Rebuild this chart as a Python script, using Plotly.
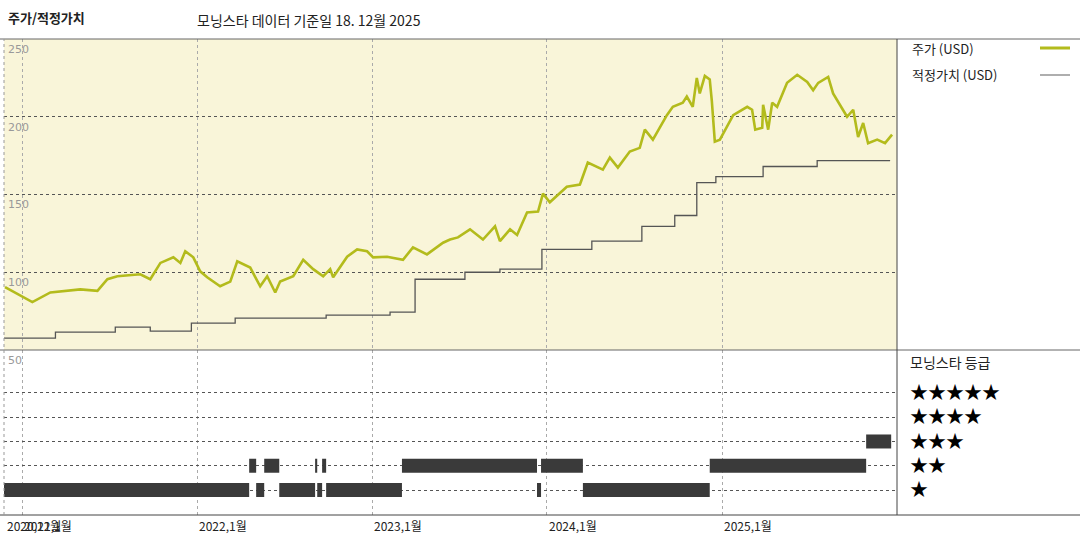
import pandas as pd
import plotly.graph_objects as go

# price (decimal year, USD)
price_t = [2020.903, 2021.057, 2021.160, 2021.331, 2021.429, 2021.486, 2021.543, 2021.674, 2021.731,
           2021.789, 2021.863, 2021.903, 2021.931, 2021.977, 2022.017, 2022.057, 2022.131, 2022.189,
           2022.229, 2022.303, 2022.360, 2022.400, 2022.446, 2022.474, 2022.549, 2022.606, 2022.663,
           2022.720, 2022.760, 2022.777, 2022.857, 2022.914, 2022.971, 2023.006, 2023.086, 2023.177,
           2023.234, 2023.314, 2023.406, 2023.446, 2023.491, 2023.560, 2023.634, 2023.703, 2023.731,
           2023.789, 2023.829, 2023.886, 2023.949, 2023.977, 2024.017, 2024.114, 2024.189, 2024.234,
           2024.320, 2024.360, 2024.406, 2024.474, 2024.531, 2024.560, 2024.606, 2024.686, 2024.720,
           2024.777, 2024.800, 2024.834, 2024.857, 2024.874, 2024.903, 2024.931, 2024.943, 2024.960,
           2024.989, 2025.029, 2025.063, 2025.143, 2025.171, 2025.189, 2025.229, 2025.234, 2025.263,
           2025.286, 2025.314, 2025.371, 2025.429, 2025.486, 2025.520, 2025.549, 2025.606, 2025.634,
           2025.691, 2025.714, 2025.749, 2025.777, 2025.806, 2025.834, 2025.886, 2025.931, 2025.971]
price = [90.4, 80.8, 87, 89, 88, 95.5, 97.4, 98.7, 95.5,
         106, 109.6, 106, 113.5, 109.6, 100.6, 96.8, 91, 94,
         107, 103, 91, 97.4, 87, 94, 97.4, 108, 102,
         97.4, 102, 96.8, 110, 114.7, 113.5, 109.6, 110, 108,
         116, 111.5, 119, 121, 122.4, 127.6, 121, 129.5, 120,
         127.6, 124, 138.5, 139, 150.6, 145, 155, 156.4, 170.5,
         166, 173.7, 167.3, 177.6, 180, 191.7, 185.3, 201, 206.4,
         209, 213, 206.4, 225, 215, 226.3, 224, 210, 184,
         185.3, 193.6, 201, 206.4, 204.5, 191.7, 193, 207.7, 191.7,
         209, 206.4, 221.8, 227, 222.4, 217, 221.8, 225.6, 215,
         204.5, 200, 204.5, 187, 196, 183, 185.3, 183, 188.5]

# fair value steps
fair_t = [2020.897, 2021.189, 2021.531, 2021.731, 2021.966, 2022.217, 2022.737, 2023.103, 2023.246,
          2023.531, 2023.731, 2023.971, 2024.257, 2024.543, 2024.731, 2024.857, 2024.966, 2025.234,
          2025.543, 2025.960]
fair = [57.7, 61.5, 64.7, 62.2, 67.3, 70.5, 72.4, 74.4, 95.5,
        100, 102, 114.7, 120, 129.5, 136.5, 157.7, 161.5, 168,
        171.8, 171.8]

# morningstar rating periods
rating_start = [2020.897, 2022.297, 2022.337, 2022.383, 2022.469, 2022.674, 2022.686, 2022.714,
                2022.737, 2023.171, 2023.943, 2023.966, 2024.206, 2024.931, 2025.823]
rating_end = [2022.297, 2022.337, 2022.383, 2022.469, 2022.674, 2022.686, 2022.714, 2022.737,
              2023.171, 2023.943, 2023.966, 2024.206, 2024.931, 2025.823, 2025.966]
rating_stars = [1, 2, 1, 2, 1, 2, 1, 2, 1, 2, 1, 2, 1, 2, 3]

year_ticks = [2021, 2022, 2023, 2024, 2025]
tick_labels = ["2020,12월", "2021,1월", "2022,1월", "2023,1월", "2024,1월", "2025,1월"]
tick_dates = ["2020-11-25", "2021-01-01", "2022-01-01", "2023-01-01", "2024-01-01", "2025-01-01"]


def to_date(y):
    yr = int(y)
    return pd.Timestamp(yr, 1, 1) + pd.Timedelta(days=(y - yr) * 365.25)


FONT = "Noto Sans CJK KR"
GRID = "#555555"

fig = go.Figure()
fig.add_trace(go.Scatter(x=[to_date(t) for t in fair_t], y=fair, mode="lines", line_shape="hv",
                         line=dict(color="#555555", width=1.3), xaxis="x", yaxis="y"))
fig.add_trace(go.Scatter(x=[to_date(t) for t in price_t], y=price, mode="lines",
                         line=dict(color="#b3bb1c", width=2.6), xaxis="x", yaxis="y"))

rx, ry = [], []
for s, e, r in zip(rating_start, rating_end, rating_stars):
    rx += [to_date(s), to_date(e), None]
    ry += [r, r, None]
fig.add_trace(go.Scatter(x=rx, y=ry, mode="lines", line=dict(color="#3a3a3a", width=14),
                         xaxis="x2", yaxis="y2"))

x0, x1 = to_date(2020.897), to_date(2026.0)
xl, xr = 4 / 1080, 897 / 1080
ytop, ymid, ybot = 1 - 39 / 540, 1 - 350 / 540, 1 - 515 / 540

xaxis_common = dict(type="date", range=[x0, x1], showticklabels=False, ticks="",
                    tickvals=[pd.Timestamp(y, 1, 1) for y in year_ticks],
                    showgrid=True, gridcolor="#aaaaaa", griddash="dot", gridwidth=1, zeroline=False)
fig.update_layout(
    width=1080, height=540, margin=dict(l=0, r=0, t=0, b=0),
    paper_bgcolor="white", plot_bgcolor="white", showlegend=False,
    font=dict(family=FONT, size=12, color="#222"),
    xaxis=dict(domain=[xl, xr], anchor="y", **xaxis_common),
    xaxis2=dict(domain=[xl, xr], anchor="y2", **xaxis_common),
    yaxis=dict(domain=[ymid, ytop], range=[50, 250], tickvals=[100, 150, 200, 250],
               showticklabels=False, showgrid=True, gridcolor=GRID, griddash="dot", zeroline=False),
    yaxis2=dict(domain=[ybot, ymid], range=[-0.03, 6.77], tickvals=[1, 2, 3, 4, 5],
                showticklabels=False, showgrid=True, gridcolor=GRID, griddash="dot", zeroline=False),
)

shapes = [
    dict(type="rect", xref="paper", yref="paper", x0=xl, x1=xr, y0=ymid, y1=ytop,
         fillcolor="#f9f5d9", line=dict(width=0), layer="below"),
    dict(type="line", xref="paper", yref="paper", x0=0, x1=1, y0=ytop, y1=ytop, line=dict(color="#666", width=1)),
    dict(type="line", xref="paper", yref="paper", x0=0, x1=1, y0=ymid, y1=ymid, line=dict(color="#666", width=1)),
    dict(type="line", xref="paper", yref="paper", x0=0, x1=1, y0=ybot, y1=ybot, line=dict(color="#444", width=1)),
    dict(type="line", xref="paper", yref="paper", x0=xr, x1=xr, y0=ybot, y1=ytop, line=dict(color="#444", width=1)),
    dict(type="line", xref="paper", yref="paper", x0=xl, x1=xl, y0=ybot, y1=ytop, line=dict(color="#999", width=1, dash="dot")),
    dict(type="line", xref="paper", yref="paper", x0=1040 / 1080, x1=1070 / 1080, y0=1 - 48 / 540, y1=1 - 48 / 540,
         line=dict(color="#b3bb1c", width=3)),
    dict(type="line", xref="paper", yref="paper", x0=1040 / 1080, x1=1070 / 1080, y0=1 - 75 / 540, y1=1 - 75 / 540,
         line=dict(color="#777", width=1.2)),
]
fig.update_layout(shapes=shapes)

ann = [
    dict(text="<b>주가/적정가치</b>", x=6 / 1080, y=1 - 18 / 540, font=dict(size=13)),
    dict(text="모닝스타 데이터 기준일 18. 12월 2025", x=195 / 1080, y=1 - 20 / 540, font=dict(size=14)),
    dict(text="주가 (USD)", x=910 / 1080, y=1 - 48 / 540, font=dict(size=13)),
    dict(text="적정가치 (USD)", x=910 / 1080, y=1 - 75 / 540, font=dict(size=13)),
    dict(text="모닝스타 등급", x=908 / 1080, y=1 - 362 / 540, font=dict(size=14)),
]
for i, n in enumerate([5, 4, 3, 2, 1]):
    ann.append(dict(text="★" * n, x=908 / 1080, y=1 - (391 + 24.3 * i) / 540,
                    font=dict(size=18, color="black")))
for a in ann:
    a.update(xref="paper", yref="paper", xanchor="left", yanchor="middle", showarrow=False)

for v in [50, 100, 150, 200, 250]:
    ann.append(dict(text=str(v), xref="paper", yref="y", x=6 / 1080, y=v, yshift=-2, xanchor="left",
                    yanchor="top", showarrow=False, font=dict(size=11, color="#999", family="DejaVu Sans")))
for lab, d in zip(tick_labels, tick_dates):
    ann.append(dict(text=lab, xref="x2", yref="paper", x=pd.Timestamp(d), y=ybot, xanchor="left",
                    yanchor="top", showarrow=False, font=dict(size=12, color="#222")))
fig.update_layout(annotations=ann)

fig.write_html("out.html", config={"displayModeBar": False},
               post_script="document.body.style.margin='0';")
